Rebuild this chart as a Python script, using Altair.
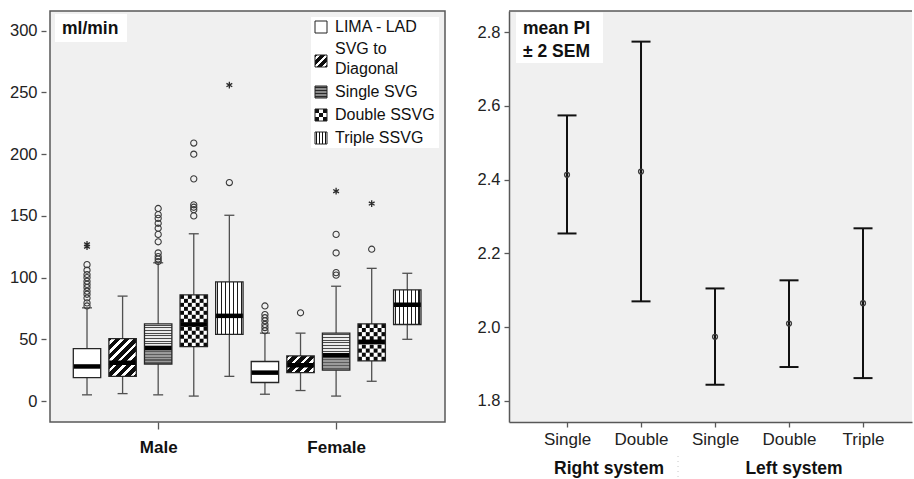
import json
import math

import altair as alt
import pandas as pd

# ---------------------------------------------------------------- data
sexes = ["Male", "Female"]
grafts = ["LIMA - LAD", "SVG to Diagonal", "Single SVG", "Double SSVG", "Triple SSVG"]

# box plot statistics (ml/min), one value per graft type
male_whisker_low = [5, 6, 5, 4, 20]
male_q1 = [19, 20, 30, 44, 54]
male_median = [28, 31, 43, 62, 69]
male_q3 = [42.5, 50.5, 62.5, 86, 96.5]
male_whisker_high = [75.5, 85, 112, 135.5, 150.5]

female_whisker_low = [5.5, 8.5, 4, 16, 50]
female_q1 = [15, 23, 25, 32.5, 62]
female_median = [23, 29, 37, 48, 78]
female_q3 = [32, 36.5, 55, 62.5, 90]
female_whisker_high = [55, 55, 93, 107.5, 103.5]

# outliers (circles) and extreme values (asterisks)
male_outliers = [
    [77, 79.5, 83.5, 86.5, 89, 92, 94.5, 97, 100, 102.5, 106, 110.5],
    [],
    [113, 115, 117, 120, 129, 135, 140, 144, 148, 151, 156],
    [150, 155, 157, 159, 180, 200, 209],
    [177],
]
female_outliers = [
    [57, 59.5, 62, 65, 67.5, 70, 77],
    [71.5],
    [102, 104, 120, 135],
    [123],
    [],
]
male_extremes = [[125, 127], [], [], [], [256]]
female_extremes = [[], [], [170], [160], []]

# pulsatility index, mean +/- 2 SEM
pi_systems = ["Right system", "Right system", "Left system", "Left system", "Left system"]
pi_grafts = ["Single", "Double", "Single", "Double", "Triple"]
pi_mean = [2.413, 2.422, 1.974, 2.010, 2.065]
pi_lower = [2.254, 2.070, 1.844, 1.892, 1.862]
pi_upper = [2.574, 2.774, 2.105, 2.127, 2.268]

flow_unit = "ml/min"
pi_caption = "mean PI\n\u00b1 2 SEM"

# ---------------------------------------------------------------- layout / style
FONT = "Liberation Sans"
W1, W2, H = 395, 403, 411
BG = "#f0f0f0"
FRAME = "#585858"
WHISKER = "#505050"
INK = "#111111"

Y1_DOMAIN = [-17, 316]
X1_DOMAIN = [-1.04, 10.06]
Y2_DOMAIN = [1.743, 2.857]
X2_DOMAIN = [-0.784, -0.784 + W2 / 74.0]

PX_X1 = W1 / (X1_DOMAIN[1] - X1_DOMAIN[0])
PX_Y1 = H / (Y1_DOMAIN[1] - Y1_DOMAIN[0])
PX_X2 = W2 / (X2_DOMAIN[1] - X2_DOMAIN[0])
BOX_HALF_PX = 13.7
BOX_HALF = BOX_HALF_PX / PX_X1
CAP_HALF = 5.0 / PX_X1
PI_CAP_HALF = 9.5 / PX_X2

ONE = pd.DataFrame({"k": [0]})

# ---------------------------------------------------------------- tables
n_g = len(grafts)
stats = {
    "Male": (male_whisker_low, male_q1, male_median, male_q3, male_whisker_high,
             male_outliers, male_extremes),
    "Female": (female_whisker_low, female_q1, female_median, female_q3, female_whisker_high,
               female_outliers, female_extremes),
}
box_rows, out_rows, ext_rows = [], [], []
for si, sex in enumerate(sexes):
    lo, q1, med, q3, hi, outs, exts = stats[sex]
    for gi, g in enumerate(grafts):
        pos = si * n_g + gi
        box_rows.append(dict(sex=sex, graft=g, pos=pos, lo=lo[gi], q1=q1[gi], med=med[gi],
                             q3=q3[gi], hi=hi[gi], xl=pos - BOX_HALF, xr=pos + BOX_HALF,
                             cl=pos - CAP_HALF, cr=pos + CAP_HALF))
        for v in outs[gi]:
            out_rows.append(dict(sex=sex, graft=g, pos=pos, value=v))
        for v in exts[gi]:
            ext_rows.append(dict(sex=sex, graft=g, pos=pos, value=v))
boxes = pd.DataFrame(box_rows)
outliers = pd.DataFrame(out_rows)
extremes = pd.DataFrame(ext_rows)

sex_centers = [si * n_g + (n_g - 1) / 2 for si in range(len(sexes))]

pi = pd.DataFrame(dict(idx=list(range(len(pi_grafts))), system=pi_systems, graft=pi_grafts,
                       mean=pi_mean, lo=pi_lower, hi=pi_upper))
pi["cl"] = pi["idx"] - PI_CAP_HALF
pi["cr"] = pi["idx"] + PI_CAP_HALF
systems = list(dict.fromkeys(pi_systems))
sys_df = pd.DataFrame(dict(system=systems,
                           center=[pi.loc[pi.system == s, "idx"].mean() for s in systems]))
sep_df = pd.DataFrame(dict(x=[(pi.loc[pi.system == systems[0], "idx"].max()
                               + pi.loc[pi.system == systems[1], "idx"].min()) / 2]))


# ---------------------------------------------------------------- fill patterns
def stripes(n, ink, paper, frac, x2, y2):
    stops = []
    for i in range(n):
        a, c = i / n, (i + 1) / n
        b1, b2 = (i + 0.5 - frac / 2) / n, (i + 0.5 + frac / 2) / n
        for off, col in ((a, paper), (b1, paper), (b1, ink), (b2, ink), (b2, paper), (c, paper)):
            stops.append(alt.GradientStop(offset=round(off, 5), color=col))
    return alt.LinearGradient(gradient="linear", stops=stops, x1=0, y1=0, x2=x2, y2=y2)


def bands(colors, x2, y2):
    n = len(colors)
    stops = []
    for i, col in enumerate(colors):
        stops.append(alt.GradientStop(offset=round(i / n, 5), color=col))
        stops.append(alt.GradientStop(offset=round((i + 1) / n, 5), color=col))
    return alt.LinearGradient(gradient="linear", stops=stops, x1=0, y1=0, x2=x2, y2=y2)


def diagonal(w, h, period, ink, paper, frac):
    k = (w + h) / (w * w + h * h)
    n = max(2, round((w + h) / math.sqrt(2) / period))
    return stripes(n, ink, paper, frac, w * k, h * k)


PATTERN = {
    "LIMA - LAD": "plain",
    "SVG to Diagonal": "diagonal",
    "Single SVG": "horizontal",
    "Double SSVG": "checker",
    "Triple SSVG": "vertical",
}

# ---------------------------------------------------------------- left panel
x1_scale = alt.Scale(domain=X1_DOMAIN, nice=False, zero=False)
y1_scale = alt.Scale(domain=Y1_DOMAIN, nice=False, zero=False)
x1_axis = alt.Axis(values=sex_centers, title=None, grid=False, domain=False,
                   labelExpr=f"{json.dumps(sexes)}[round((datum.value - {sex_centers[0]}) / {n_g})]",
                   tickSize=7, tickColor=FRAME, tickWidth=1.3, labelFontSize=17,
                   labelFontWeight="bold", labelColor="#111", labelPadding=10, labelOverlap=False)
y1_axis = alt.Axis(values=list(range(0, 301, 50)), title=None, grid=False, domain=False,
                   tickSize=5, tickColor=FRAME, tickWidth=1.3, offset=4, labelFontSize=16.5,
                   labelColor="#222", labelPadding=4)


def bx(f):
    return alt.X(f"{f}:Q", scale=x1_scale, axis=x1_axis)


def by(f):
    return alt.Y(f"{f}:Q", scale=y1_scale, axis=y1_axis)


left = []
rule = dict(color=WHISKER, strokeWidth=1.3)
left.append(alt.Chart(boxes).mark_rule(**rule).encode(x=bx("pos"), y=by("q3"), y2="hi"))
left.append(alt.Chart(boxes).mark_rule(**rule).encode(x=bx("pos"), y=by("lo"), y2="q1"))
left.append(alt.Chart(boxes).mark_rule(**rule).encode(x=bx("cl"), x2="cr", y=by("hi")))
left.append(alt.Chart(boxes).mark_rule(**rule).encode(x=bx("cl"), x2="cr", y=by("lo")))

cells = []
for _, r in boxes.iterrows():
    one = pd.DataFrame([r.to_dict()])

    def rect(fill, lo="q1", hi="q3", data=one):
        return alt.Chart(data).mark_rect(fill=fill).encode(x=bx("xl"), x2="xr", y=by(lo), y2=hi)

    kind = PATTERN[r.graft]
    w = 2 * BOX_HALF_PX
    if kind == "plain":
        left.append(rect("white"))
    elif kind == "diagonal":
        h = (r.q3 - r.q1) * PX_Y1
        left.append(rect(diagonal(w, h, 6.5, "white", "#0d0d0d", 0.4)))
    elif kind == "horizontal":
        hu = (r.q3 - r.med) * PX_Y1
        hl = (r.med - r.q1) * PX_Y1
        left.append(rect(stripes(max(2, round(hu / 2.8)), "#4a4a4a", "#ececec", 0.4, 0, 1), "med", "q3"))
        left.append(rect(stripes(max(2, round(hl / 2.8)), "#5c5c5c", "#9a9a9a", 0.4, 0, 1), "q1", "med"))
    elif kind == "checker":
        left.append(rect("white"))
        n_rows = max(2, round((r.q3 - r.q1) * PX_Y1 / 3.9))
        ch = (r.q3 - r.q1) / n_rows
        cw = (r.xr - r.xl) / 7
        for rr in range(n_rows):
            for cc in range(7):
                if (rr + cc) % 2 == 0:
                    cells.append(dict(x=r.xl + cc * cw, x2=r.xl + (cc + 1) * cw,
                                      y=r.q1 + rr * ch, y2=r.q1 + (rr + 1) * ch))
    elif kind == "vertical":
        left.append(rect(stripes(7, "#1a1a1a", "white", 0.3, 1, 0)))

left.append(alt.Chart(pd.DataFrame(cells)).mark_rect(fill="#0a0a0a").encode(
    x=bx("x"), x2="x2", y=by("y"), y2="y2"))
left.append(alt.Chart(boxes).mark_rule(color="black", strokeWidth=4.5, strokeCap="butt").encode(
    x=bx("xl"), x2="xr", y=by("med")))
left.append(alt.Chart(boxes).mark_rect(fillOpacity=0, stroke="#262626", strokeWidth=1.3).encode(
    x=bx("xl"), x2="xr", y=by("q1"), y2="q3"))
left.append(alt.Chart(outliers).mark_point(shape="circle", filled=False, size=38, color="#3a3a3a",
                                           strokeWidth=1.1, opacity=1).encode(x=bx("pos"), y=by("value")))
ASTERISK = "M0,-1L0,1M-0.866,-0.5L0.866,0.5M-0.866,0.5L0.866,-0.5"
left.append(alt.Chart(extremes).mark_point(shape=ASTERISK, filled=False, size=45, color="#2a2a2a",
                                           strokeWidth=1.3, opacity=1).encode(x=bx("pos"), y=by("value")))

# unit label
left.append(alt.Chart(ONE).mark_rect(fill="white").encode(
    x=alt.value(5), x2=alt.value(77), y=alt.value(3), y2=alt.value(31)))
left.append(alt.Chart(ONE).mark_text(align="left", baseline="middle", fontSize=17.5,
                                     fontWeight="bold", color="#111").encode(
    x=alt.value(12), y=alt.value(18), text=alt.value(flow_unit)))

# legend drawn inside the plot
LEG_X0, LEG_X1, LEG_Y0, LEG_Y1 = 261, 389, 6, 137
SYM_X, SYM = 265, 12
TEXT_X = 285
ROW_Y = [16, 50, 81, 104, 127]
LINE_H = 20
left.append(alt.Chart(ONE).mark_rect(fill="white").encode(
    x=alt.value(LEG_X0), x2=alt.value(LEG_X1), y=alt.value(LEG_Y0), y2=alt.value(LEG_Y1)))
for g, yc in zip(grafts, ROW_Y):
    ys, ye = yc - SYM / 2, yc + SYM / 2
    kind = PATTERN[g]

    def sym(fill, x0=SYM_X, x1=SYM_X + SYM):
        return alt.Chart(ONE).mark_rect(fill=fill).encode(
            x=alt.value(x0), x2=alt.value(x1), y=alt.value(ys), y2=alt.value(ye))

    if kind == "plain":
        left.append(sym("white"))
    elif kind == "diagonal":
        left.append(sym(diagonal(SYM, SYM, 6.5, "white", "#0d0d0d", 0.35)))
    elif kind == "horizontal":
        left.append(sym(stripes(4, "#2a2a2a", "#8a8a8a", 0.4, 0, 1)))
    elif kind == "checker":
        for c in range(3):
            cols = ["#111", "white", "#111"] if c % 2 == 0 else ["white", "#111", "white"]
            left.append(sym(bands(cols, 0, 1), SYM_X + c * SYM / 3, SYM_X + (c + 1) * SYM / 3))
    elif kind == "vertical":
        left.append(sym(stripes(4, "#111", "white", 0.35, 1, 0)))
    left.append(alt.Chart(ONE).mark_rect(fillOpacity=0, stroke="#222", strokeWidth=1).encode(
        x=alt.value(SYM_X), x2=alt.value(SYM_X + SYM), y=alt.value(ys), y2=alt.value(ye)))
    label = g.replace(" to ", " to\n")
    n_lines = label.count("\n") + 1
    left.append(alt.Chart(ONE).mark_text(align="left", baseline="middle", fontSize=16,
                                         color="#111", lineBreak="\n", lineHeight=LINE_H).encode(
        x=alt.value(TEXT_X), y=alt.value(yc - 2 - (n_lines - 1) * LINE_H / 2) if n_lines > 1
        else alt.value(yc),
        text=alt.value(label)))

left_chart = alt.layer(*left).properties(
    width=W1, height=H, view=alt.ViewBackground(fill=BG, stroke=FRAME, strokeWidth=1.5))

# ---------------------------------------------------------------- right panel
x2_scale = alt.Scale(domain=X2_DOMAIN, nice=False, zero=False)
y2_scale = alt.Scale(domain=Y2_DOMAIN, nice=False, zero=False)
x2_axis = alt.Axis(values=list(range(len(pi_grafts))), title=None, grid=False,
                   labelExpr=f"{json.dumps(pi_grafts)}[datum.value]",
                   domain=True, domainColor=FRAME, domainWidth=1.5, tickSize=5, tickColor=FRAME,
                   tickWidth=1.3, labelFontSize=17, labelColor="#222", labelPadding=4,
                   labelOverlap=False, labelFlush=False)
y2_axis = alt.Axis(values=[1.8, 2.0, 2.2, 2.4, 2.6, 2.8], format=".1f", title=None, grid=False,
                   domain=True, domainColor=FRAME, domainWidth=1.5, tickSize=5, tickColor=FRAME,
                   tickWidth=1.3, labelFontSize=16.5, labelColor="#222", labelPadding=4)


def px(f):
    return alt.X(f"{f}:Q", scale=x2_scale, axis=x2_axis)


def py(f):
    return alt.Y(f"{f}:Q", scale=y2_scale, axis=y2_axis)


right = []
right.append(alt.Chart(ONE).mark_rule(color=FRAME, strokeWidth=1.5).encode(
    x=alt.value(0), x2=alt.value(W2), y=alt.value(0)))
bar = dict(color=INK, strokeWidth=2)
right.append(alt.Chart(pi).mark_rule(**bar).encode(x=px("idx"), y=py("lo"), y2="hi"))
right.append(alt.Chart(pi).mark_rule(**bar).encode(x=px("cl"), x2="cr", y=py("hi")))
right.append(alt.Chart(pi).mark_rule(**bar).encode(x=px("cl"), x2="cr", y=py("lo")))
right.append(alt.Chart(pi).mark_point(shape="circle", filled=False, size=24, color="#3a3a3a",
                                      strokeWidth=1.3, opacity=1).encode(x=px("idx"), y=py("mean")))
right.append(alt.Chart(ONE).mark_rect(fill="white").encode(
    x=alt.value(7), x2=alt.value(94), y=alt.value(1.5), y2=alt.value(52)))
right.append(alt.Chart(ONE).mark_text(align="left", baseline="middle", fontSize=17.5,
                                      fontWeight="bold", color="#111", lineBreak="\n",
                                      lineHeight=22.5).encode(
    x=alt.value(14), y=alt.value(18), text=alt.value(pi_caption)))
right.append(alt.Chart(sys_df).mark_text(align="center", baseline="middle", fontSize=17.5,
                                         fontWeight="bold", color="#111", dx=5).encode(
    x=px("center"), y=alt.value(H + 47), text="system:N"))
right.append(alt.Chart(sep_df).mark_rule(color="#c8c8c8", strokeWidth=1, strokeDash=[1, 4]).encode(
    x=px("x"), y=alt.value(H + 34), y2=alt.value(H + 58)))

right_chart = alt.layer(*right).properties(
    width=W2, height=H, view=alt.ViewBackground(fill=BG, stroke="transparent", strokeWidth=0))

chart = alt.hconcat(left_chart, right_chart, spacing=31).properties(
    padding={"left": 8, "top": 10, "right": 0, "bottom": 0}
).configure(font=FONT, background="white").configure_axis(labelFont=FONT).configure_text(font=FONT)

chart.save("out.html", embed_options={"renderer": "svg", "actions": False})
